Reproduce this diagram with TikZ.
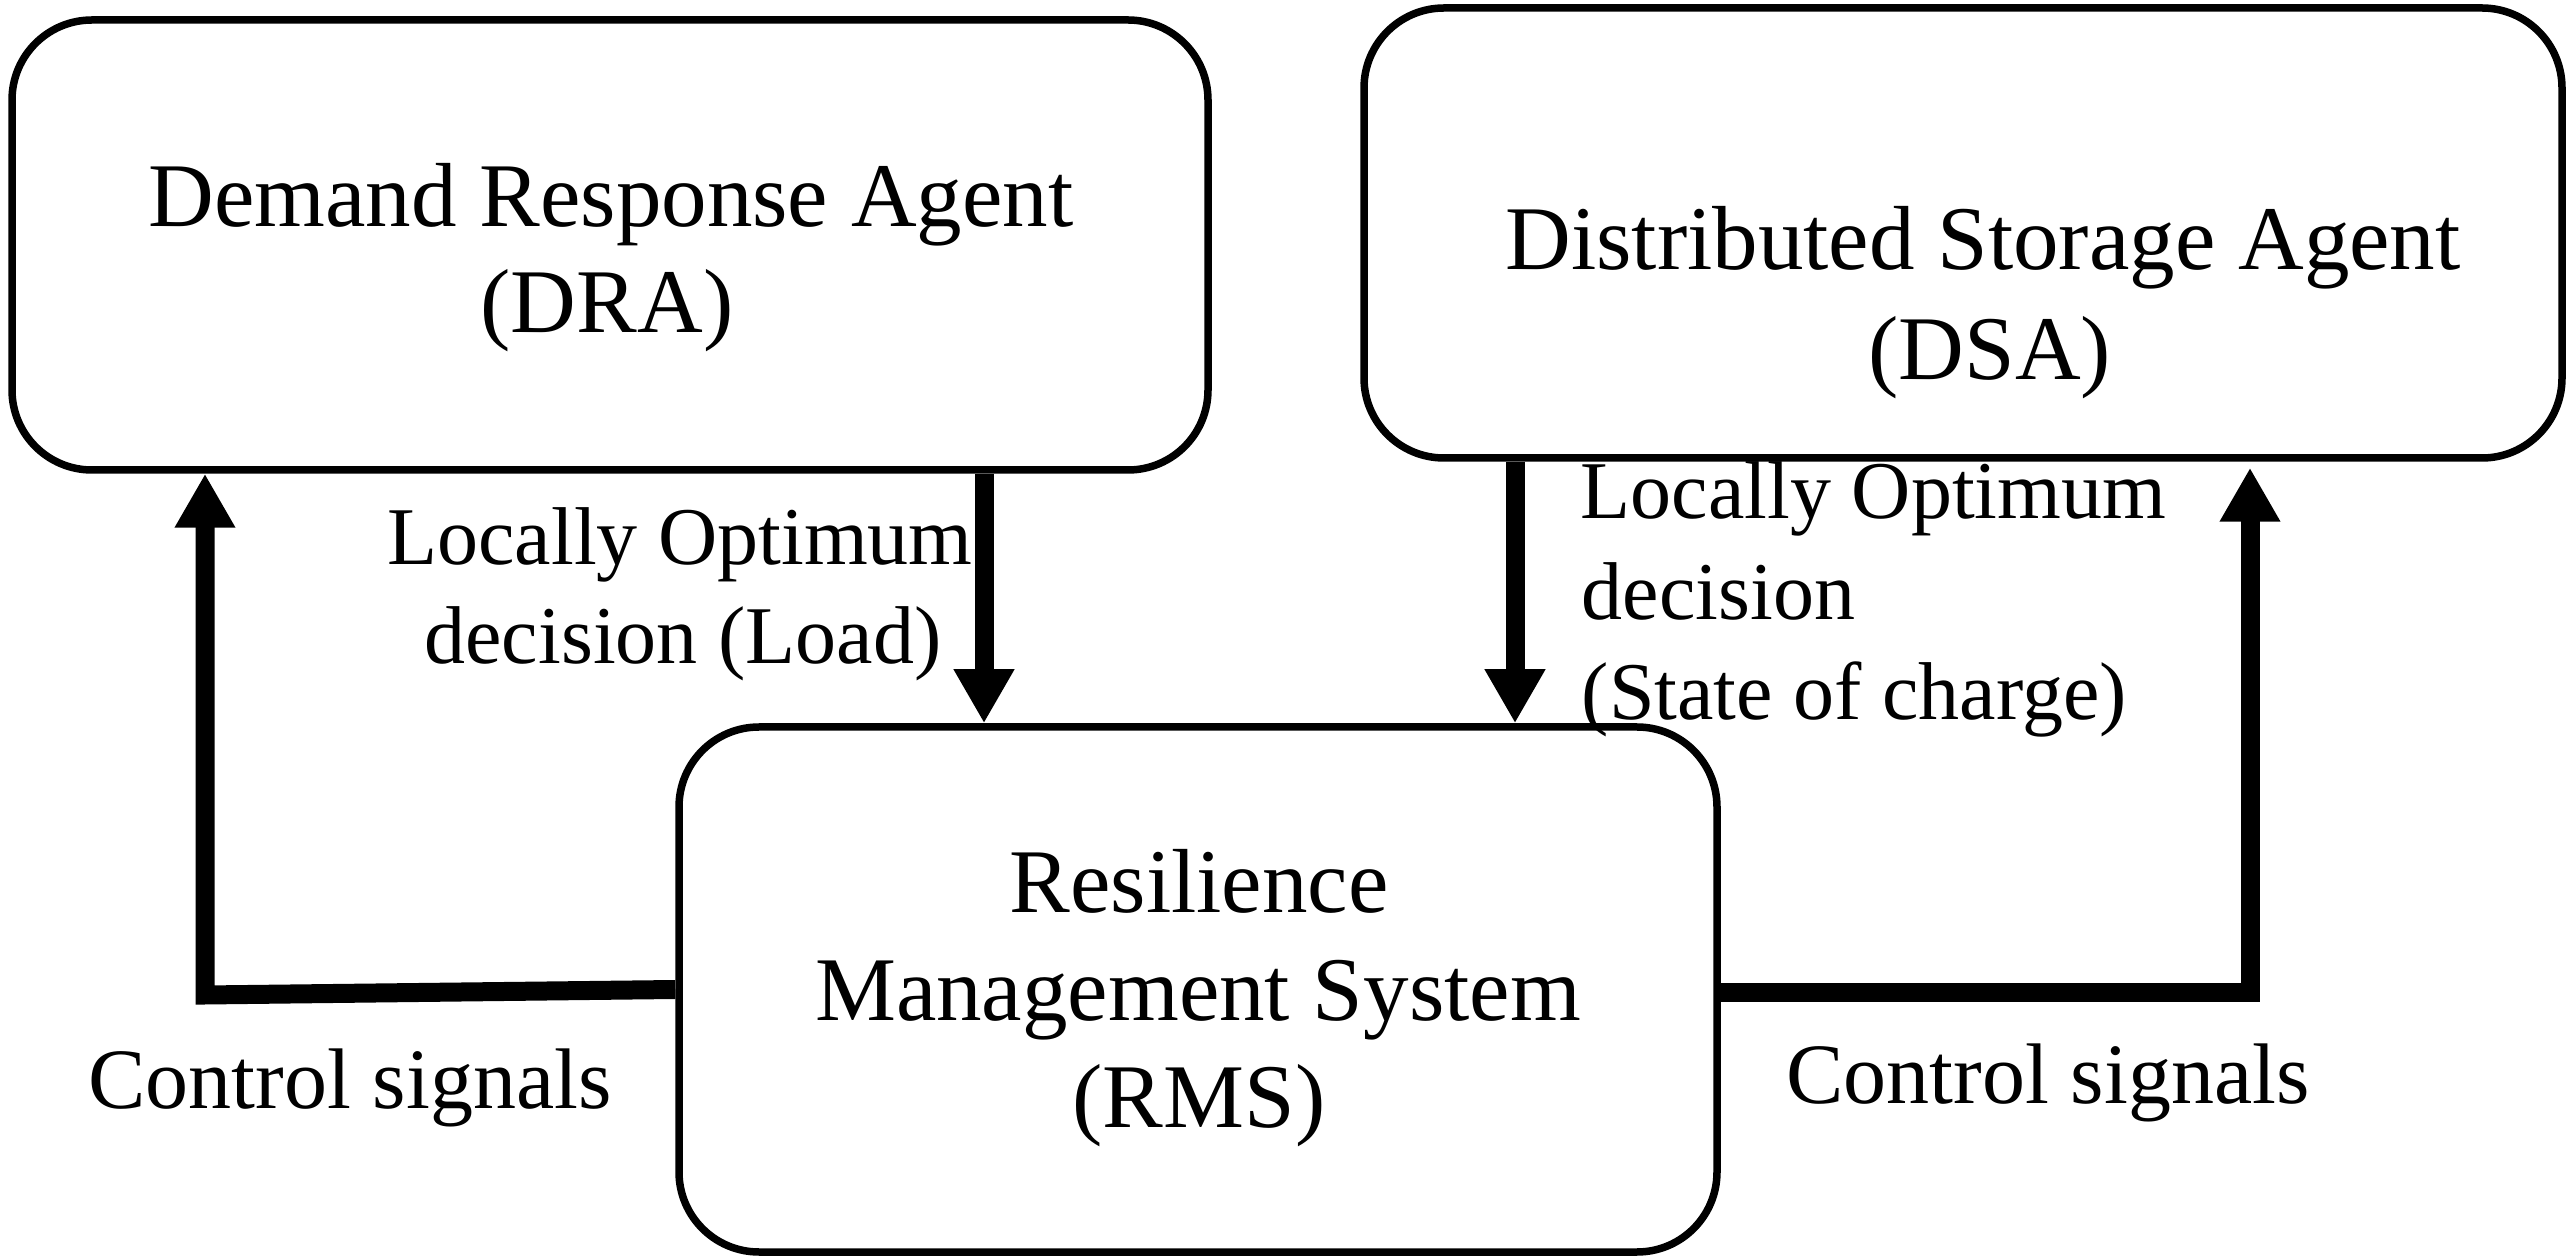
\documentclass[tikz,border=0pt]{standalone}
\usepackage{fontspec}
\setmainfont{Liberation Serif}
\usetikzlibrary{arrows.meta}
\tikzset{
  agentbox/.style={draw=black, line width=1.875pt, rounded corners=20pt, fill=white, inner sep=0pt},
  boxtext/.style={inner sep=0pt, anchor=base, font=\fontsize{22.75pt}{26.75pt}\selectfont},
  lbl/.style={inner sep=0pt, font=\fontsize{20.5pt}{25pt}\selectfont},
  ctl/.style={inner sep=0pt, anchor=base, font=\fontsize{21.5pt}{25pt}\selectfont},
  conn/.style={line width=4.75pt, line join=miter, -{Triangle[width=14.25pt,length=13.5pt]}},
}
\begin{document}
\begin{tikzpicture}[x=0.25pt, y=-0.25pt]
\useasboundingbox (0,0) rectangle (2571,1260);
% boxes
\node[agentbox, minimum width=299pt, minimum height=112.5pt] (DRA) at (610,245) {};
\node[agentbox, minimum width=299.5pt, minimum height=112.5pt] (DSA) at (1963,233) {};
\node[agentbox, minimum width=259.5pt, minimum height=131.25pt] (RMS) at (1198,989.5) {};
% box texts
\node[boxtext] (draA) at (611,227) {Demand Response Agent};
\node[boxtext] (draB) at (607,333) {(DRA)};
\node[boxtext] (dsaA) at (1983,270) {Distributed Storage Agent};
\node[boxtext] (dsaB) at (1990,380) {(DSA)};
\node[boxtext] (rmsA) at (1199,913) {Resilience};
\node[boxtext] (rmsB) at (1198,1020) {Management System};
\node[boxtext] (rmsC) at (1199,1128) {(RMS)};
% connector labels
\node[lbl, anchor=base] (loA) at (680,565) {Locally Optimum};
\node[lbl, anchor=base] (loB) at (683,664) {decision (Load)};
\node[lbl, anchor=base west] (soA) at (1580,519) {Locally Optimum};
\node[lbl, anchor=base west] (soB) at (1581,620) {decision};
\node[lbl, anchor=base west] (soC) at (1581,720) {(State of charge)};
\node[ctl] (csL) at (350,1108) {Control signals};
\node[ctl] (csR) at (2048,1104) {Control signals};
% connectors
\coordinate (a1) at (984,0);
\coordinate (a2) at (1515,0);
\coordinate (lc) at (205,995);
\coordinate (rc) at (2250,993);
\draw[conn] (DRA.south -| a1) -- (RMS.north -| a1);
\draw[conn] (DSA.south -| a2) -- (RMS.north -| a2);
\draw[conn] (RMS.west) -- (lc) -- (DRA.south -| lc);
\draw[conn, shorten >=1.5pt] (RMS.east |- rc) -- (rc) -- (DSA.south -| rc);
\end{tikzpicture}
\end{document}
